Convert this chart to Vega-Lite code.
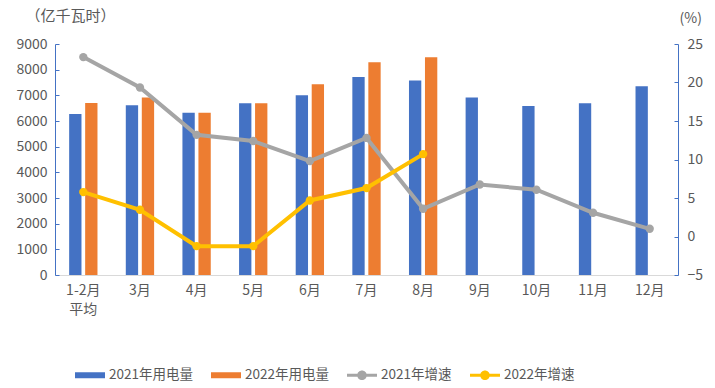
{
  "$schema": "https://vega.github.io/schema/vega-lite/v6.json",
  "width": 623,
  "height": 231,
  "autosize": {"type": "none"},
  "padding": {"left": 55, "top": 44, "right": 37, "bottom": 113},
  "background": "white",
  "config": {
    "view": {"stroke": null},
    "font": "Noto Sans CJK SC",
    "axis": {"grid": false, "labelFont": "Noto Sans CJK SC", "labelFontSize": 14, "labelColor": "#595959", "titleFont": "Noto Sans CJK SC", "titleColor": "#595959", "titleFontWeight": "normal"}
  },
  "data": {
    "values": [
      {"month": "1-2月平均", "series": "2021年用电量", "kind": "bar", "v": 6270},
      {"month": "3月", "series": "2021年用电量", "kind": "bar", "v": 6610},
      {"month": "4月", "series": "2021年用电量", "kind": "bar", "v": 6320},
      {"month": "5月", "series": "2021年用电量", "kind": "bar", "v": 6690},
      {"month": "6月", "series": "2021年用电量", "kind": "bar", "v": 7000},
      {"month": "7月", "series": "2021年用电量", "kind": "bar", "v": 7710},
      {"month": "8月", "series": "2021年用电量", "kind": "bar", "v": 7580},
      {"month": "9月", "series": "2021年用电量", "kind": "bar", "v": 6920},
      {"month": "10月", "series": "2021年用电量", "kind": "bar", "v": 6580},
      {"month": "11月", "series": "2021年用电量", "kind": "bar", "v": 6690},
      {"month": "12月", "series": "2021年用电量", "kind": "bar", "v": 7350},
      {"month": "1-2月平均", "series": "2022年用电量", "kind": "bar", "v": 6700},
      {"month": "3月", "series": "2022年用电量", "kind": "bar", "v": 6920},
      {"month": "4月", "series": "2022年用电量", "kind": "bar", "v": 6320},
      {"month": "5月", "series": "2022年用电量", "kind": "bar", "v": 6690},
      {"month": "6月", "series": "2022年用电量", "kind": "bar", "v": 7430},
      {"month": "7月", "series": "2022年用电量", "kind": "bar", "v": 8290},
      {"month": "8月", "series": "2022年用电量", "kind": "bar", "v": 8480},
      {"month": "1-2月平均", "series": "2021年增速", "kind": "line", "v": 23.3},
      {"month": "3月", "series": "2021年增速", "kind": "line", "v": 19.35},
      {"month": "4月", "series": "2021年增速", "kind": "line", "v": 13.2},
      {"month": "5月", "series": "2021年增速", "kind": "line", "v": 12.4},
      {"month": "6月", "series": "2021年增速", "kind": "line", "v": 9.8},
      {"month": "7月", "series": "2021年增速", "kind": "line", "v": 12.8},
      {"month": "8月", "series": "2021年增速", "kind": "line", "v": 3.6},
      {"month": "9月", "series": "2021年增速", "kind": "line", "v": 6.75},
      {"month": "10月", "series": "2021年增速", "kind": "line", "v": 6.07},
      {"month": "11月", "series": "2021年增速", "kind": "line", "v": 3.08},
      {"month": "12月", "series": "2021年增速", "kind": "line", "v": 1.0},
      {"month": "1-2月平均", "series": "2022年增速", "kind": "line", "v": 5.77},
      {"month": "3月", "series": "2022年增速", "kind": "line", "v": 3.47},
      {"month": "4月", "series": "2022年增速", "kind": "line", "v": -1.25},
      {"month": "5月", "series": "2022年增速", "kind": "line", "v": -1.25},
      {"month": "6月", "series": "2022年增速", "kind": "line", "v": 4.68},
      {"month": "7月", "series": "2022年增速", "kind": "line", "v": 6.29},
      {"month": "8月", "series": "2022年增速", "kind": "line", "v": 10.7}
    ]
  },
  "layer": [
    {
      "transform": [{"filter": "datum.kind == 'bar'"}],
      "mark": {"type": "bar"},
      "encoding": {
        "x": {
          "field": "month", "type": "nominal",
          "sort": ["1-2月平均", "3月", "4月", "5月", "6月", "7月", "8月", "9月", "10月", "11月", "12月"],
          "scale": {"domain": ["1-2月平均", "3月", "4月", "5月", "6月", "7月", "8月", "9月", "10月", "11月", "12月"], "paddingInner": 0.5, "paddingOuter": 0.25},
          "axis": {
            "title": null, "labelAngle": 0, "ticks": false, "domainColor": "#D9D9D9", "domainWidth": 1,
            "labelPadding": 8, "labelLineHeight": 19,
            "labelExpr": "datum.value == '1-2月平均' ? ['1-2月', '平均'] : datum.value"
          }
        },
        "xOffset": {"field": "series", "type": "nominal", "scale": {"domain": ["2021年用电量", "2022年用电量"], "paddingInner": 0.23, "paddingOuter": 0}},
        "y": {
          "field": "v", "type": "quantitative",
          "scale": {"domain": [0, 9000], "nice": false},
          "axis": {
            "values": [0, 1000, 2000, 3000, 4000, 5000, 6000, 7000, 8000, 9000], "format": "d",
            "domainColor": "#4472C4", "tickColor": "#4472C4", "tickSize": -4, "labelPadding": 12,
            "title": "（亿千瓦时）", "titleAngle": 0, "titleAlign": "left", "titleBaseline": "middle",
            "titleX": -30, "titleY": -29, "titleFontSize": 15
          }
        },
        "color": {
          "field": "series", "type": "nominal",
          "scale": {"domain": ["2021年用电量", "2022年用电量", "2021年增速", "2022年增速"], "range": ["#4472C4", "#ED7D31", "#A5A5A5", "#FFC000"]},
          "legend": {
            "title": null, "orient": "none", "direction": "horizontal", "columns": 4,
            "legendX": 20, "legendY": 316, "padding": 0, "columnPadding": 18,
            "symbolSize": 900, "labelOffset": 4, "labelFontSize": 13.5, "labelColor": "#595959", "labelFont": "Noto Sans CJK SC",
            "encode": {
              "symbols": {
                "update": {
                  "shape": {"signal": "indexof(datum.value, '增速') >= 0 ? 'M-1,-0.1L-0.3,-0.1L-0.3,0.1L-1,0.1Z M0.3,-0.1L1,-0.1L1,0.1L0.3,0.1Z M0.32,0A0.32,0.32 0 1,1 -0.32,0A0.32,0.32 0 1,1 0.32,0Z' : 'M-1,-0.2L1,-0.2L1,0.2L-1,0.2Z'"},
                  "fill": {"scale": "color", "field": "value"},
                  "stroke": {"value": "transparent"},
                  "strokeWidth": {"value": 0},
                  "opacity": {"value": 1},
                  "fillOpacity": {"value": 1}
                }
              }
            }
          }
        }
      }
    },
    {
      "transform": [{"filter": "datum.kind == 'line'"}],
      "mark": {"type": "line", "strokeWidth": 4, "point": {"filled": true, "size": 70, "opacity": 1}},
      "encoding": {
        "x": {"field": "month", "type": "nominal", "sort": ["1-2月平均", "3月", "4月", "5月", "6月", "7月", "8月", "9月", "10月", "11月", "12月"]},
        "y": {
          "field": "v", "type": "quantitative",
          "scale": {"domain": [-5, 25], "nice": false},
          "axis": {
            "orient": "right", "values": [-5, 0, 5, 10, 15, 20, 25],
            "domainColor": "#4472C4", "tickColor": "#4472C4", "tickSize": -4, "labelPadding": 13,
            "title": "(%)", "titleAngle": 0, "titleAlign": "left", "titleBaseline": "middle",
            "titleX": 1, "titleY": -26, "titleFontSize": 14
          }
        },
        "color": {"field": "series", "type": "nominal"}
      }
    }
  ],
  "resolve": {"scale": {"y": "independent"}}
}
